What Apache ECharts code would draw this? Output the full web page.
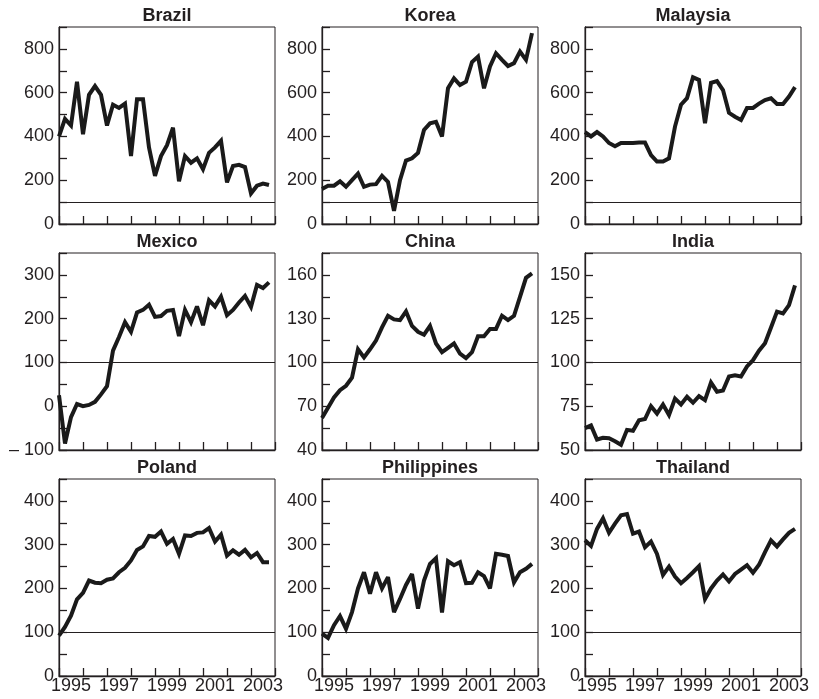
<!DOCTYPE html>
<html>
<head>
<meta charset="utf-8">
<script src="https://cdn.jsdelivr.net/npm/echarts@6/dist/echarts.min.js"></script>
<style>
html,body{margin:0;padding:0;background:#fff;}
#chart{width:819px;height:699px;}
</style>
</head>
<body>
<div id="chart"></div>
<script>
// ---------- data ----------
const quarters = [
  '1995Q1','1995Q2','1995Q3','1995Q4','1996Q1','1996Q2','1996Q3','1996Q4',
  '1997Q1','1997Q2','1997Q3','1997Q4','1998Q1','1998Q2','1998Q3','1998Q4',
  '1999Q1','1999Q2','1999Q3','1999Q4','2000Q1','2000Q2','2000Q3','2000Q4',
  '2001Q1','2001Q2','2001Q3','2001Q4','2002Q1','2002Q2','2002Q3','2002Q4',
  '2003Q1','2003Q2','2003Q3','2003Q4'
];
const yearLabels = ['1995','1997','1999','2001','2003'];

const brazil = [400,480,450,650,410,590,630,590,450,545,530,550,310,570,570,350,220,310,360,440,195,310,280,300,250,325,350,380,190,265,270,260,140,175,185,178];
const korea = [160,175,175,195,170,200,230,170,180,182,220,192,60,200,290,300,325,430,460,467,400,620,665,635,650,740,765,620,720,780,750,722,735,788,750,872];
const malaysia = [420,400,420,400,370,355,370,370,370,372,372,315,285,285,300,445,545,575,670,658,460,645,653,612,508,490,475,530,530,550,566,574,548,548,582,625];
const mexico = [25,-85,-25,5,0,3,10,27,46,127,158,192,170,214,220,232,204,206,218,220,160,220,192,228,185,242,228,250,208,220,237,252,227,277,270,283];
const china = [62,69,76,81,84,89.6,109,103.5,109,115,124,132,129.5,129,135,125,121,119,125,113,107,110,113,106,103,107,118,118,123,123,132,129,132,145,158,161];
const india = [62.5,64,56,57,56.7,55,53,61.5,61,67,67.7,75,70.8,76,70,79.4,76,80.4,77,80.8,78.5,88.5,83.3,84,92,92.7,92,97.7,101.3,106.7,111,120,129,128,132.7,144];
const poland = [92,112,138,175,190,218,213,212,220,223,237,247,264,288,296,320,318,330,302,313,279,321,320,327,328,338,307,323,275,287,277,288,271,281,260,260];
const philippines = [97,87,116,137,108,146,200,237,188,237,200,226,146,176,208,233,154,218,256,269,145,262,253,260,212,213,237,228,200,279,277,274,214,237,245,256];
const thailand = [310,297,336,360,327,348,367,370,325,330,294,307,279,231,250,227,212,224,237,251,176,200,218,232,216,233,243,253,236,254,283,310,296,312,327,336];

// ---------- layout / style ----------
const INK = '#231f20';
const FONT = '"Liberation Sans", Arial, Helvetica, sans-serif';
const COL_LEFT = [59, 322, 585];
const ROW_TOP = [27, 253, 479];
const PW = 216, PH = 197;

const panels = [
  {name:'Brazil',      data:brazil,      row:0,col:0, min:0,   max:900,   tick:100,  lab:200},
  {name:'Korea',       data:korea,       row:0,col:1, min:0,   max:900,   tick:100,  lab:200},
  {name:'Malaysia',    data:malaysia,    row:0,col:2, min:0,   max:900,   tick:100,  lab:200},
  {name:'Mexico',      data:mexico,      row:1,col:0, min:-100,max:350,   tick:50,   lab:100},
  {name:'China',       data:china,       row:1,col:1, min:40,  max:175,   tick:15,   lab:30, shifted:true},
  {name:'India',       data:india,       row:1,col:2, min:50,  max:162.5, tick:12.5, lab:25},
  {name:'Poland',      data:poland,      row:2,col:0, min:0,   max:450,   tick:50,   lab:100},
  {name:'Philippines', data:philippines, row:2,col:1, min:0,   max:450,   tick:50,   lab:100},
  {name:'Thailand',    data:thailand,    row:2,col:2, min:0,   max:450,   tick:50,   lab:100}
];

function qx(q){ return +q.slice(0,4) + (+q.slice(5) - 1) / 4; }
function isMult(v, step){ const r = v/step; return Math.abs(r - Math.round(r)) < 1e-6; }
function fmtNum(v){ return v < 0 ? '\u2013 ' + Math.abs(v) : String(v); }

const grid = [], xAxis = [], yAxis = [], series = [], title = [];
const axisLineStyle = {color: INK, width: 1.3};
const labelText = {color: INK, fontSize: 18, fontFamily: FONT};

panels.forEach((p, i) => {
  const left = COL_LEFT[p.col], top = ROW_TOP[p.row];
  grid.push({left: left, top: top, width: PW, height: PH, show: true,
             borderColor: INK, borderWidth: 1, containLabel: false, outerBoundsMode: 'none'});
  title.push({text: p.name, left: left + PW/2, top: top - 20, textAlign: 'center', padding: 0,
              textStyle: {fontSize: 18, fontWeight: 'bold', color: INK, fontFamily: FONT}});
  // x axis with ticks
  const xi = xAxis.length;
  xAxis.push({gridIndex: i, type: 'value', min: 1995, max: 2004, interval: 1, position: 'bottom',
    axisLine: {show: true, onZero: false, lineStyle: axisLineStyle},
    axisTick: {show: true, inside: true, length: 8, lineStyle: axisLineStyle},
    axisLabel: {show: false}, splitLine: {show: false}});
  if (p.row === 2) {
    xAxis.push({gridIndex: i, type: 'value', min: 1995, max: 2004, interval: 0.5, position: 'bottom',
      axisLine: {show: false}, axisTick: {show: false}, splitLine: {show: false},
      axisLabel: Object.assign({show: true, margin: 1, showMinLabel: true, showMaxLabel: true,
        formatter: function (v) {
          const f = Math.floor(v + 1e-6);
          if (Math.abs(v - f - 0.5) > 0.01) return '';
          const s = String(f);
          return yearLabels.indexOf(s) >= 0 ? s : '';
        }}, labelText)});
  }
  // y axis
  const yi = yAxis.length;
  if (p.shifted) {
    yAxis.push({gridIndex: i, type: 'value', min: p.min, max: p.max, show: false, splitLine: {show: false}});
    yAxis.push({gridIndex: i, type: 'value', min: 0, max: p.max - p.min, interval: p.tick, position: 'left',
      axisLine: {show: true, onZero: false, lineStyle: axisLineStyle},
      axisTick: {show: true, inside: true, length: 8, lineStyle: axisLineStyle},
      splitLine: {show: false},
      axisLabel: Object.assign({margin: 5, showMinLabel: true, showMaxLabel: true,
        formatter: v => isMult(v, p.lab) ? fmtNum(Math.round((v + p.min) * 100) / 100) : ''}, labelText)});
  } else {
    yAxis.push({gridIndex: i, type: 'value', min: p.min, max: p.max, interval: p.tick, position: 'left',
      axisLine: {show: true, onZero: false, lineStyle: axisLineStyle},
      axisTick: {show: true, inside: true, length: 8, lineStyle: axisLineStyle},
      splitLine: {show: false},
      axisLabel: Object.assign({margin: 5, showMinLabel: true, showMaxLabel: true,
        formatter: v => (isMult(v, p.lab) && v < p.max) ? fmtNum(v) : ''}, labelText)});
  }
  series.push({
    type: 'line', name: p.name, xAxisIndex: xi, yAxisIndex: yi,
    data: quarters.map((q, j) => [qx(q), p.data[j]]),
    showSymbol: false, symbol: 'none', silent: true,
    lineStyle: {color: '#1a1a1a', width: 4, join: 'miter', miterLimit: 3},
    markLine: {silent: true, symbol: ['none', 'none'], label: {show: false},
      lineStyle: {color: INK, width: 1, type: 'solid'}, data: [{yAxis: 100}]}
  });
});

const chart = echarts.init(document.getElementById('chart'), null, {renderer: 'canvas'});
chart.setOption({
  animation: false,
  backgroundColor: '#fff',
  title: title, grid: grid, xAxis: xAxis, yAxis: yAxis, series: series
});
</script>
</body>
</html>
